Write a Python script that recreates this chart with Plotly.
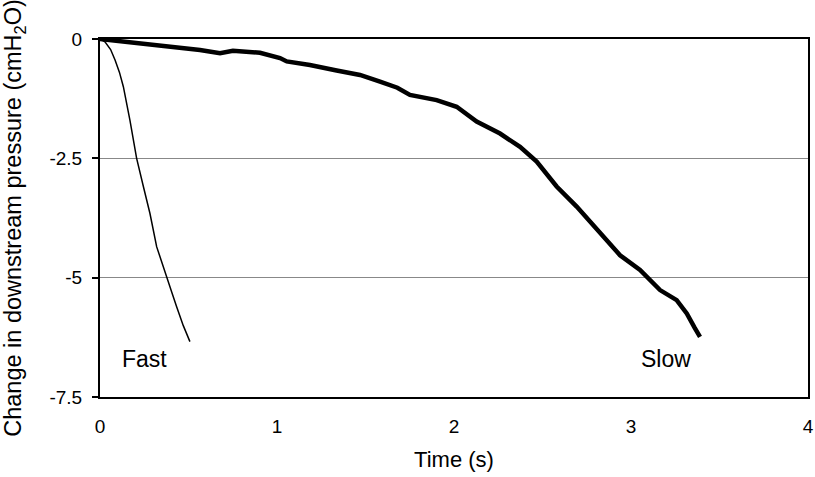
import plotly.graph_objects as go

# Data
fast_t = [0, 0.028, 0.06, 0.085, 0.11, 0.132, 0.169, 0.207, 0.245, 0.282, 0.32, 0.35, 0.377, 0.405, 0.433, 0.47, 0.508]
fast_p = [0, -0.06, -0.22, -0.44, -0.70, -1.0, -1.70, -2.5, -3.09, -3.65, -4.35, -4.70, -5.0, -5.30, -5.61, -6.0, -6.34]

slow_t = [0, 0.1, 0.226, 0.377, 0.565, 0.678, 0.751, 0.904, 1.017, 1.055, 1.186, 1.337, 1.469,
          1.582, 1.68, 1.751, 1.902, 2.015, 2.128, 2.26, 2.373, 2.467, 2.58, 2.693, 2.825,
          2.938, 3.051, 3.164, 3.258, 3.315, 3.36, 3.39]
slow_p = [0, -0.04, -0.09, -0.16, -0.23, -0.30, -0.245, -0.29, -0.40, -0.47, -0.545, -0.66, -0.754,
          -0.895, -1.02, -1.17, -1.28, -1.42, -1.73, -1.98, -2.26, -2.57, -3.09, -3.51, -4.07,
          -4.53, -4.84, -5.26, -5.47, -5.75, -6.05, -6.24]

x_ticks = [0, 1, 2, 3, 4]
y_ticks = [0, -2.5, -5, -7.5]
y_tick_text = ["0", "-2.5", "-5", "-7.5"]

labels = ["Fast", "Slow"]
label_x = [0.249, 3.198]
label_y = [-6.70, -6.70]

font = "Liberation Sans, Arial, sans-serif"

fig = go.Figure()
fig.add_trace(go.Scatter(x=fast_t, y=fast_p, mode="lines",
                         line=dict(color="black", width=1.5), showlegend=False))
fig.add_trace(go.Scatter(x=slow_t, y=slow_p, mode="lines",
                         line=dict(color="black", width=4.5), showlegend=False))

for t, xx, yy in zip(labels, label_x, label_y):
    fig.add_annotation(x=xx, y=yy, text=t, showarrow=False,
                       font=dict(family=font, size=23, color="black"))

fig.update_layout(
    width=815, height=477,
    margin=dict(l=100, r=7, t=39, b=80, autoexpand=False),
    paper_bgcolor="white", plot_bgcolor="white",
    font=dict(family=font, size=19, color="black"),
)
fig.update_xaxes(
    range=[0, 4], tickvals=x_ticks, ticktext=[str(v) for v in x_ticks],
    showgrid=False, zeroline=False, showline=True, linecolor="black", linewidth=1.5,
    mirror=True, ticks="", ticklabelstandoff=11, ticklabeloverflow="allow",
    automargin=False, tickfont=dict(size=19),
    title=dict(text="Time (s)", standoff=16, font=dict(size=22)),
)
fig.update_yaxes(
    range=[-7.5, 0], tickvals=y_ticks, ticktext=y_tick_text,
    showgrid=True, gridcolor="#888888", gridwidth=1, zeroline=False,
    showline=True, linecolor="black", linewidth=2, mirror=True,
    ticks="outside", ticklen=6, tickcolor="black", tickwidth=1.5,
    ticklabelstandoff=6, automargin=False, tickfont=dict(size=19),
    title=dict(text="Change in downstream pressure (cmH<sub>2</sub>O)", standoff=28, font=dict(size=23.5)),
)

fig.write_html("out.html", config={"displayModeBar": False},
               post_script="document.body.style.margin='0';")
